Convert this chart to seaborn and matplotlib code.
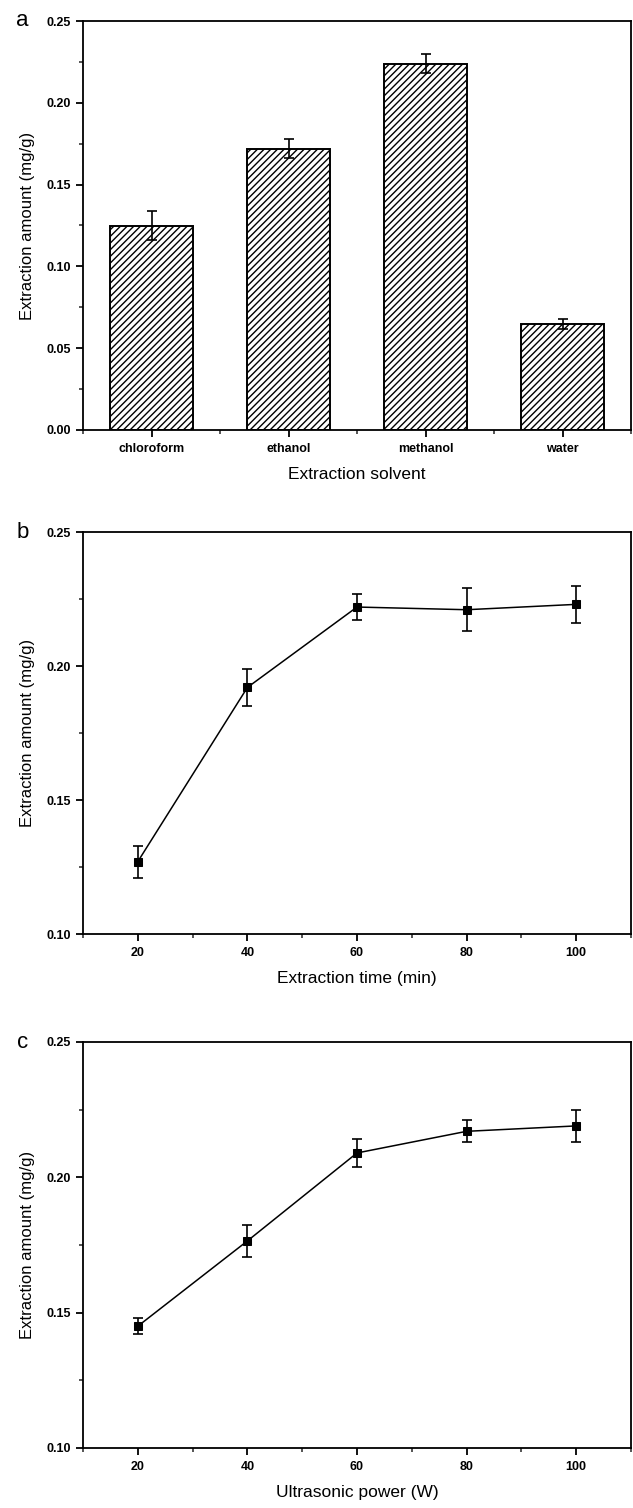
import matplotlib
matplotlib.use("Agg")
import matplotlib.pyplot as plt
import seaborn as sns
from matplotlib.ticker import MultipleLocator, FormatStrFormatter

# panel a - solvent
solvents = ["chloroform", "ethanol", "methanol", "water"]
solvent_amount = [0.125, 0.172, 0.224, 0.065]
solvent_err = [0.009, 0.006, 0.006, 0.003]

# panel b - extraction time
times = [20, 40, 60, 80, 100]
time_amount = [0.127, 0.192, 0.222, 0.221, 0.223]
time_err = [0.006, 0.007, 0.005, 0.008, 0.007]

# panel c - ultrasonic power
powers = [20, 40, 60, 80, 100]
power_amount = [0.145, 0.1765, 0.209, 0.217, 0.219]
power_err = [0.003, 0.006, 0.005, 0.004, 0.006]

sns.set_style("white")
plt.rcParams['font.family'] = ['Liberation Sans', 'DejaVu Sans']
plt.rcParams['hatch.linewidth'] = 1.0
plt.rcParams['text.color'] = 'black'
plt.rcParams['axes.labelcolor'] = 'black'

fig = plt.figure(figsize=(6.33, 15.08), dpi=100)
W, H = 633.0, 1508.0


def make_axes(top, bottom, left=83, right=631):
    return fig.add_axes([left / W, 1 - bottom / H, (right - left) / W, (bottom - top) / H])


def style_axes(ax, letter):
    for s in ax.spines.values():
        s.set_visible(True)
        s.set_color("black")
        s.set_linewidth(1.3)
    ax.tick_params(axis="both", which="major", direction="out", length=5, width=1.3,
                   labelsize=9, colors="black", top=False, right=False,
                   bottom=True, left=True, pad=4)
    ax.tick_params(axis="both", which="minor", direction="out", length=3, width=1.1,
                   top=False, right=False, bottom=True, left=True)
    for lab in ax.get_xticklabels() + ax.get_yticklabels():
        lab.set_fontweight("bold")
    ax.yaxis.set_major_formatter(FormatStrFormatter("%.2f"))
    ax.text(-0.11, 1.0, letter, transform=ax.transAxes, fontsize=16,
            ha="center", va="center")


# ---- a ----
ax1 = make_axes(21, 430)
sns.barplot(x=solvents, y=solvent_amount, color="white", edgecolor="black",
            hatch="/////", linewidth=1.4, width=0.6, ax=ax1, saturation=1)
ax1.errorbar(range(len(solvents)), solvent_amount, yerr=solvent_err, fmt="none",
             ecolor="black", elinewidth=1.2, capsize=3.5, capthick=1.2)
ax1.set_xlim(-0.5, 3.5)
ax1.set_ylim(0, 0.25)
ax1.yaxis.set_major_locator(MultipleLocator(0.05))
ax1.yaxis.set_minor_locator(MultipleLocator(0.025))
ax1.xaxis.set_minor_locator(MultipleLocator(0.5))
ax1.set_xlabel("Extraction solvent", fontsize=12.5, labelpad=9)
ax1.set_ylabel("Extraction amount (mg/g)", fontsize=12, labelpad=8)
style_axes(ax1, "a")

# ---- b ----
ax2 = make_axes(532, 934)
sns.lineplot(x=times, y=time_amount, color="black", linewidth=1.1, marker="s",
             markersize=6, markeredgecolor="black", ax=ax2)
ax2.errorbar(times, time_amount, yerr=time_err, fmt="none", ecolor="black",
             elinewidth=1.2, capsize=3.5, capthick=1.2)
ax2.set_xlim(10, 110)
ax2.set_ylim(0.10, 0.25)
ax2.xaxis.set_major_locator(MultipleLocator(20))
ax2.xaxis.set_minor_locator(MultipleLocator(10))
ax2.yaxis.set_major_locator(MultipleLocator(0.05))
ax2.yaxis.set_minor_locator(MultipleLocator(0.025))
ax2.set_xlabel("Extraction time (min)", fontsize=12.5, labelpad=9)
ax2.set_ylabel("Extraction amount (mg/g)", fontsize=12, labelpad=8)
style_axes(ax2, "b")

# ---- c ----
ax3 = make_axes(1042, 1448)
sns.lineplot(x=powers, y=power_amount, color="black", linewidth=1.1, marker="s",
             markersize=6, markeredgecolor="black", ax=ax3)
ax3.errorbar(powers, power_amount, yerr=power_err, fmt="none", ecolor="black",
             elinewidth=1.2, capsize=3.5, capthick=1.2)
ax3.set_xlim(10, 110)
ax3.set_ylim(0.10, 0.25)
ax3.xaxis.set_major_locator(MultipleLocator(20))
ax3.xaxis.set_minor_locator(MultipleLocator(10))
ax3.yaxis.set_major_locator(MultipleLocator(0.05))
ax3.yaxis.set_minor_locator(MultipleLocator(0.025))
ax3.set_xlabel("Ultrasonic power (W)", fontsize=12.5, labelpad=9)
ax3.set_ylabel("Extraction amount (mg/g)", fontsize=12, labelpad=8)
style_axes(ax3, "c")

fig.savefig("out.png", dpi=100)
